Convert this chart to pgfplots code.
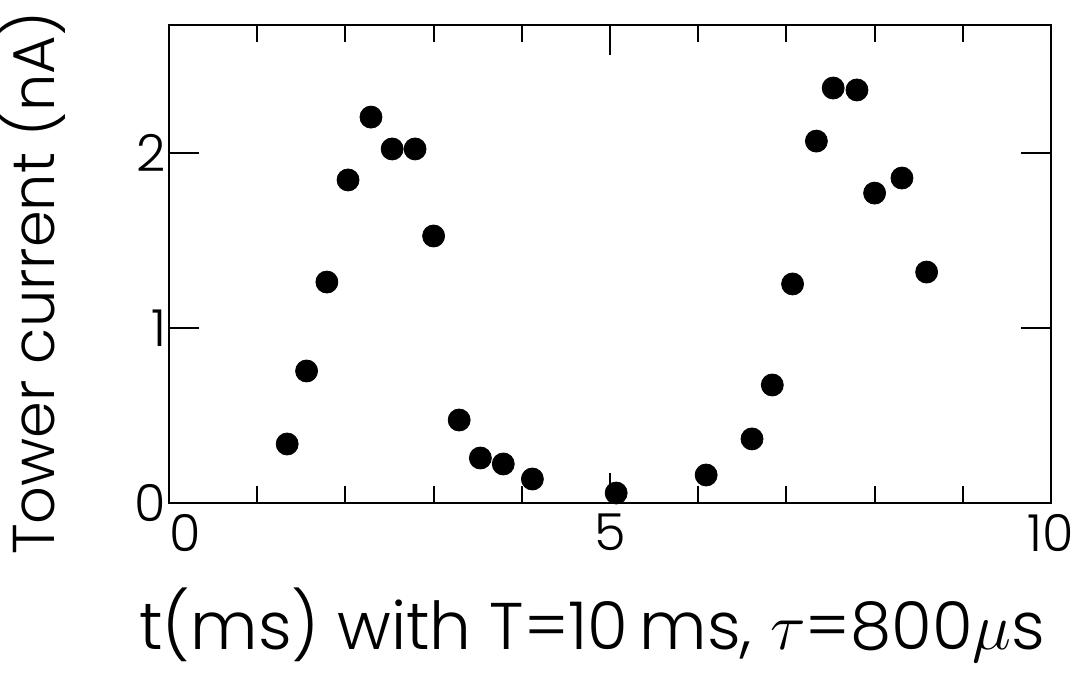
\RequirePackage{fix-cm}
\documentclass[border=0pt]{standalone}
\usepackage{fontspec}
\setmainfont{Poppins}[UprightFont=* Light]
\usepackage{pgfplots}
\pgfplotsset{compat=1.18}

\begin{document}
\begin{tikzpicture}
\begin{axis}[
    at={(84.5pt,91pt)}, anchor=south west,
    scale only axis,
    width=441pt, height=239pt,
    xmin=0, xmax=10,
    ymin=0, ymax=2.73,
    xtick={0,5,10},
    xticklabels={\hspace{16pt}0,5,10},
    minor x tick num=4,
    ytick={0,1,2},
    tick align=inside,
    major tick length=15pt,
    minor tick length=8.5pt,
    axis line style={line width=1.3pt},
    every tick/.style={black, line width=1pt},
    /pgf/number format/assume math mode=true,
    tick label style={font=\fontsize{25.5}{25.5}\selectfont},
    xticklabel style={yshift=-2pt},
    yticklabel style={xshift=2pt},
    xlabel={t(ms) with T=10\,ms, $\tau$=800$\mu$s},
    xlabel style={font=\fontsize{33}{33}\selectfont, at={(axis description cs:0.48,-0.255)}, anchor=center},
    ylabel={Tower current (nA)},
    ylabel style={font=\fontsize{29.5}{29.5}\selectfont, at={(axis description cs:-0.155,0.46)}, anchor=center, rotate=0},
]
\addplot[only marks, mark=*, mark size=5.5pt, black] coordinates {
(1.34,0.337) (1.56,0.754) (1.79,1.262) (2.03,1.845) (2.29,2.204)
(2.53,2.022) (2.79,2.022) (3.00,1.525) (3.29,0.474) (3.53,0.257)
(3.79,0.223) (4.12,0.137) (5.07,0.057) (6.09,0.160) (6.61,0.366)
(6.84,0.674) (7.07,1.251) (7.34,2.067) (7.53,2.370) (7.80,2.359)
(8.00,1.770) (8.31,1.856) (8.59,1.319)
};
\end{axis}
\pgfresetboundingbox
\path[use as bounding box] (0,0) rectangle (539.5pt,342.5pt);
\end{tikzpicture}
\end{document}
